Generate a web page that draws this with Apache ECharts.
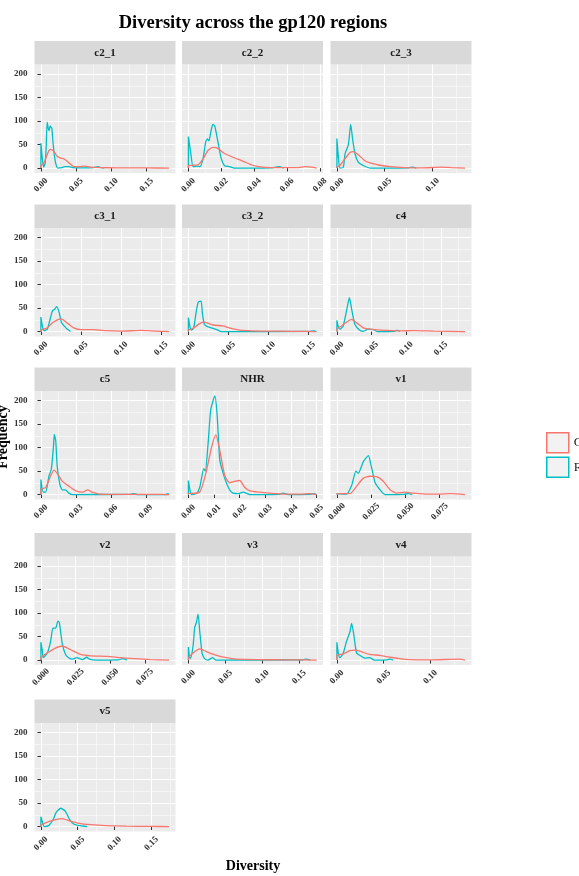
<!DOCTYPE html>
<html>
<head>
<meta charset="utf-8">
<title>Diversity across the gp120 regions</title>
<script src="https://cdn.jsdelivr.net/npm/echarts@6/dist/echarts.min.js"></script>
<style>
  html, body { margin: 0; padding: 0; background: #fff; }
  #chart { width: 579px; height: 876px; }
</style>
</head>
<body>
<div id="chart"></div>
<script>
// facet panels, in reading order (3 per row)
const regions = ['c2_1', 'c2_2', 'c2_3', 'c3_1', 'c3_2', 'c4', 'c5', 'NHR', 'v1', 'v2', 'v3', 'v4', 'v5'];
const groups = ['Chronic', 'Recent'];

// x tick labels, one set per panel (free x scales)
const xTicks_c2_1 = ['0.00', '0.05', '0.10', '0.15'];
const xTicks_c2_2 = ['0.00', '0.02', '0.04', '0.06', '0.08'];
const xTicks_c2_3 = ['0.00', '0.05', '0.10'];
const xTicks_c3_1 = ['0.00', '0.05', '0.10', '0.15'];
const xTicks_c3_2 = ['0.00', '0.05', '0.10', '0.15'];
const xTicks_c4 = ['0.00', '0.05', '0.10', '0.15'];
const xTicks_c5 = ['0.00', '0.03', '0.06', '0.09'];
const xTicks_NHR = ['0.00', '0.01', '0.02', '0.03', '0.04', '0.05'];
const xTicks_v1 = ['0.000', '0.025', '0.050', '0.075'];
const xTicks_v2 = ['0.000', '0.025', '0.050', '0.075'];
const xTicks_v3 = ['0.00', '0.05', '0.10', '0.15'];
const xTicks_v4 = ['0.00', '0.05', '0.10'];
const xTicks_v5 = ['0.00', '0.05', '0.10', '0.15'];
const yTickLabels = ['0', '50', '100', '150', '200'];

// density curves: [diversity, frequency]
const chronic_c2_1 = [[0,0],[0,5],[0.004,10],[0.008,25],[0.011,36],[0.0136,40],[0.018,36],[0.023,25],[0.028,21],[0.032,20],[0.037,15],[0.042,8],[0.047,3],[0.055,3],[0.062,4],[0.07,2],[0.084,1],[0.108,0.5],[0.15,0.3],[0.182,0]];
const recent_c2_1 = [[0,0],[0,53],[0.002,20],[0.004,2],[0.006,10],[0.0075,45],[0.0089,98],[0.0105,84],[0.0118,80],[0.013,90],[0.0136,88],[0.0155,85],[0.017,58],[0.019,28],[0.021,10],[0.024,0],[0.03,1],[0.034,3],[0.04,3],[0.045,1],[0.06,0.5],[0.075,1],[0.081,3],[0.086,1],[0.09,0]];

const chronic_c2_2 = [[0,0],[0,5],[0.003,6],[0.006,7],[0.009,20],[0.012,38],[0.015,44],[0.018,42],[0.021,33],[0.027,23],[0.033,15],[0.039,6],[0.045,2],[0.053,1],[0.067,1],[0.071,3],[0.075,2],[0.078,0]];
const recent_c2_2 = [[0,0],[0,67],[0.0015,30],[0.0028,3],[0.005,4],[0.007,3],[0.0089,20],[0.0105,55],[0.0115,62],[0.0125,58],[0.0138,80],[0.0149,93],[0.016,90],[0.018,55],[0.02,20],[0.022,5],[0.025,3],[0.028,0],[0.05,0.5],[0.055,3],[0.058,0]];

const chronic_c2_3 = [[0,0],[0,2],[0.003,5],[0.0085,20],[0.0137,33],[0.017,35],[0.0225,28],[0.0296,15],[0.0366,10],[0.045,6],[0.056,3],[0.07,1],[0.09,0.5],[0.109,2],[0.12,1],[0.134,0]];
const recent_c2_3 = [[0,0],[0,63],[0.0015,25],[0.003,0],[0.0067,2],[0.0085,30],[0.012,50],[0.0144,93],[0.0165,60],[0.019,30],[0.0225,12],[0.028,5],[0.035,0],[0.075,0.5],[0.079,2],[0.083,0]];

const chronic_c3_1 = [[0,0],[0,3],[0.008,8],[0.014,18],[0.0205,25],[0.0255,27],[0.033,18],[0.041,8],[0.05,4],[0.066,4],[0.079,2],[0.1,1],[0.117,2],[0.125,2.5],[0.137,1.5],[0.15,0.5],[0.16,0]];
const recent_c3_1 = [[0,0],[0,31],[0.002,10],[0.004,2],[0.008,5],[0.012,30],[0.0146,45],[0.017,47],[0.0196,53],[0.0226,42],[0.0255,20],[0.029,12],[0.033,5],[0.037,0]];

const chronic_c3_2 = [[0,0],[0,3],[0.0058,7],[0.014,17],[0.02,20],[0.0307,14],[0.043,12],[0.051,8],[0.064,3],[0.08,1.5],[0.097,1],[0.13,0.5],[0.159,0]];
const recent_c3_2 = [[0,0],[0,30],[0.002,10],[0.0037,3],[0.0066,8],[0.01,45],[0.0124,63],[0.0158,65],[0.0174,40],[0.02,15],[0.0245,10],[0.0307,7],[0.037,3],[0.041,0],[0.15,0.3],[0.157,1.5],[0.16,0]];

const chronic_c4 = [[0,0],[0,5],[0.0068,12],[0.014,20],[0.021,26],[0.029,18],[0.038,8],[0.048,5],[0.063,3],[0.092,1.5],[0.111,2],[0.14,1],[0.185,0]];
const recent_c4 = [[0,0],[0,24],[0.002,10],[0.0044,5],[0.009,12],[0.014,45],[0.018,72],[0.021,50],[0.026,15],[0.033,3],[0.038,0.5],[0.045,5],[0.053,4],[0.058,0],[0.083,0.5],[0.087,3],[0.091,0]];

const chronic_c5 = [[0,0],[0,11],[0.004,15],[0.0084,40],[0.0113,52],[0.014,45],[0.0185,28],[0.024,18],[0.03,8],[0.036,5],[0.04,10],[0.044,5],[0.05,1],[0.066,0.5],[0.104,0.5],[0.11,0]];
const recent_c5 = [[0,0],[0,32],[0.002,5],[0.004,5],[0.007,40],[0.009,55],[0.0107,100],[0.0115,128],[0.0127,115],[0.014,60],[0.0164,20],[0.0185,10],[0.021,10],[0.024,3],[0.027,0],[0.077,0.5],[0.08,2],[0.083,0],[0.107,0],[0.109,2],[0.11,0]];

const chronic_NHR = [[0,0],[0,2],[0.0044,5],[0.007,50],[0.009,100],[0.0107,127],[0.0122,95],[0.0142,40],[0.0161,25],[0.018,28],[0.02,30],[0.022,15],[0.024,8],[0.0279,5],[0.0318,3],[0.037,1],[0.044,1],[0.047,2],[0.05,0]];
const recent_NHR = [[0,0],[0,30],[0.0006,10],[0.0012,0],[0.0031,2],[0.0044,15],[0.006,55],[0.0066,50],[0.0077,110],[0.0087,180],[0.0103,210],[0.0112,170],[0.0122,75],[0.0133,50],[0.0148,25],[0.0161,10],[0.0174,3],[0.0195,2],[0.0214,5],[0.024,0],[0.035,0.5],[0.037,3],[0.039,0],[0.047,0.5],[0.049,2],[0.05,0]];

const chronic_v1 = [[0,0],[0,2],[0.0095,2],[0.0144,18],[0.0193,35],[0.0242,39],[0.029,38],[0.034,28],[0.0389,10],[0.0437,3],[0.05,5],[0.056,3],[0.066,1],[0.075,1],[0.083,2],[0.0935,0]];
const recent_v1 = [[0,0],[0,2],[0.004,1],[0.007,1],[0.0108,20],[0.0139,50],[0.0156,45],[0.0193,70],[0.023,83],[0.0247,65],[0.0279,25],[0.0315,10],[0.035,0],[0.049,0.5],[0.052,2],[0.055,0]];

const chronic_v2 = [[0,0],[0,5],[0.0046,15],[0.0094,24],[0.0154,30],[0.0215,22],[0.0287,12],[0.036,9],[0.048,8],[0.0576,5],[0.067,3],[0.079,1],[0.0925,0]];
const recent_v2 = [[0,0],[0,38],[0.001,20],[0.0017,5],[0.0046,15],[0.007,40],[0.0087,68],[0.0106,68],[0.0123,83],[0.0133,80],[0.0154,35],[0.0178,12],[0.02,5],[0.0227,2],[0.026,5],[0.03,1],[0.033,6],[0.035,2],[0.04,0],[0.056,0.5],[0.059,3],[0.062,0]];

const chronic_v3 = [[0,0],[0,3],[0.0063,15],[0.0154,24],[0.0244,18],[0.038,10],[0.0515,5],[0.065,2],[0.097,1],[0.13,0.5],[0.1735,0]];
const recent_v3 = [[0,0],[0,28],[0.0013,8],[0.0027,3],[0.0063,30],[0.0086,70],[0.0108,80],[0.0131,98],[0.0154,60],[0.0185,15],[0.022,3],[0.0266,0],[0.0325,5],[0.037,0],[0.155,0.5],[0.16,2],[0.165,0]];

const chronic_v4 = [[0,0],[0,10],[0.0068,13],[0.0139,20],[0.019,21],[0.026,18],[0.035,12],[0.046,10],[0.057,6],[0.067,3],[0.078,1],[0.1,0.5],[0.131,2],[0.137,0]];
const recent_v4 = [[0,0],[0,38],[0.0015,15],[0.0032,5],[0.0068,15],[0.0103,40],[0.0139,60],[0.0157,78],[0.018,55],[0.021,15],[0.0246,10],[0.03,4],[0.035,5],[0.04,0],[0.054,0.5],[0.057,2],[0.06,0]];

const chronic_v5 = [[0,0],[0,3],[0.0065,8],[0.0187,14],[0.0289,17],[0.039,12],[0.0512,7],[0.0675,4],[0.088,2],[0.116,1],[0.15,0.3],[0.174,0]];
const recent_v5 = [[0,0],[0,21],[0.002,10],[0.0045,0],[0.0106,2],[0.0167,15],[0.0207,30],[0.0268,39],[0.033,33],[0.039,15],[0.045,5],[0.053,2],[0.063,0]];

const xTickSets = [xTicks_c2_1, xTicks_c2_2, xTicks_c2_3, xTicks_c3_1, xTicks_c3_2, xTicks_c4, xTicks_c5, xTicks_NHR, xTicks_v1, xTicks_v2, xTicks_v3, xTicks_v4, xTicks_v5];
const chronicData = [chronic_c2_1, chronic_c2_2, chronic_c2_3, chronic_c3_1, chronic_c3_2, chronic_c4, chronic_c5, chronic_NHR, chronic_v1, chronic_v2, chronic_v3, chronic_v4, chronic_v5];
const recentData = [recent_c2_1, recent_c2_2, recent_c2_3, recent_c3_1, recent_c3_2, recent_c4, recent_c5, recent_NHR, recent_v1, recent_v2, recent_v3, recent_v4, recent_v5];

// layout (ggplot facet_wrap look)
const colLeft = [34.5, 182, 330.5];
const rowTop = [64.5, 228, 391, 556.5, 723];
const panelW = 141;
const panelH = 108.5;
const stripH = 23.5;
const serif = '"Liberation Serif", "DejaVu Serif", serif';
const RED = '#F8766D';
const TEAL = '#00BFC4';

// ggplot style minor breaks: midpoints between majors, one step beyond each end if still inside
function minorBreaks(major, lo, hi) {
  const step = major[1] - major[0];
  const ext = [major[0] - step, ...major, major[major.length - 1] + step];
  const out = [];
  for (let i = 0; i < ext.length - 1; i++) {
    const m = (ext[i] + ext[i + 1]) / 2;
    if (m >= lo && m <= hi) out.push(m);
  }
  return out;
}

function labelFor(labels, v) {
  const hit = labels.find(s => Math.abs(Number(s) - v) < 1e-9);
  return hit === undefined ? '' : hit;
}

// shared y scale (fixed across facets), 5% expansion like ggplot
const allY = chronicData.concat(recentData).flat().map(p => p[1]);
const yTop = Math.max(...allY);
const yMin = -0.05 * yTop;
const yMax = 1.05 * yTop;
const yMajor = yTickLabels.map(Number);
const yMinor = minorBreaks(yMajor, yMin, yMax);

const grids = [];
const xAxes = [];
const yAxes = [];
const series = [];
const graphics = [];

const tickStyle = { color: '#333', width: 1 };
const labelStyle = { fontFamily: serif, fontWeight: 'bold', fontSize: 9, color: '#333' };

regions.forEach((name, i) => {
  const col = i % 3;
  const row = Math.floor(i / 3);
  const left = colLeft[col];
  const top = rowTop[row];

  const pts = chronicData[i].concat(recentData[i]);
  const xHi = Math.max(...pts.map(p => p[0]));
  const xMin = -0.05 * xHi;
  const xMax = 1.05 * xHi;
  const labels = xTickSets[i];
  const xMajor = labels.map(Number);
  const xMinor = minorBreaks(xMajor, xMin, xMax);

  grids.push({
    left: left, top: top, width: panelW, height: panelH,
    show: true, backgroundColor: '#EBEBEB', borderWidth: 0
  });

  // major x axis: labels, ticks, major grid
  xAxes.push({
    type: 'value', gridIndex: i, min: xMin, max: xMax, position: 'bottom',
    axisLine: { show: false },
    axisTick: { show: true, customValues: xMajor, length: 3.5, lineStyle: tickStyle },
    axisLabel: Object.assign({
      customValues: xMajor, rotate: 45, align: 'center', verticalAlign: 'middle', margin: 12,
      formatter: v => labelFor(labels, v)
    }, labelStyle),
    splitLine: { show: true, lineStyle: { color: '#fff', width: 1.1 } }
  });
  // minor x grid only
  xAxes.push({
    type: 'value', gridIndex: i, min: xMin, max: xMax, position: 'top',
    axisLine: { show: false },
    axisTick: { show: false, customValues: xMinor },
    axisLabel: { show: false, customValues: xMinor },
    splitLine: { show: true, lineStyle: { color: '#fff', width: 0.5 } }
  });

  yAxes.push({
    type: 'value', gridIndex: i, min: yMin, max: yMax, position: 'left',
    axisLine: { show: false },
    axisTick: { show: col === 0, customValues: yMajor, length: 3.5, lineStyle: tickStyle },
    axisLabel: Object.assign({
      show: col === 0, customValues: yMajor, margin: 7,
      formatter: v => labelFor(yTickLabels, v)
    }, labelStyle),
    splitLine: { show: true, lineStyle: { color: '#fff', width: 1.1 } }
  });
  yAxes.push({
    type: 'value', gridIndex: i, min: yMin, max: yMax, position: 'right',
    axisLine: { show: false },
    axisTick: { show: false, customValues: yMinor },
    axisLabel: { show: false, customValues: yMinor },
    splitLine: { show: true, lineStyle: { color: '#fff', width: 0.5 } }
  });

  // teal first so the red outline sits on top, as in the original
  [[groups[1], recentData[i], TEAL], [groups[0], chronicData[i], RED]].forEach(([g, d, c]) => {
    series.push({
      name: g, type: 'line', xAxisIndex: 2 * i, yAxisIndex: 2 * i,
      data: d, showSymbol: false, smooth: 0.2,
      lineStyle: { color: c, width: 1.3 }, itemStyle: { color: c }
    });
  });

  // facet strip
  graphics.push({
    type: 'rect', silent: true,
    shape: { x: left, y: top - stripH, width: panelW, height: stripH },
    style: { fill: '#D9D9D9' }
  });
  graphics.push({
    type: 'text', silent: true,
    style: {
      text: name, x: left + panelW / 2, y: top - stripH / 2,
      align: 'center', verticalAlign: 'middle',
      font: 'bold 11px ' + serif, fill: '#1A1A1A'
    }
  });
});

// title and axis titles
graphics.push({
  type: 'text', silent: true,
  style: {
    text: 'Diversity across the gp120 regions', x: 253, y: 23,
    align: 'center', verticalAlign: 'middle',
    font: 'bold 18.5px ' + serif, fill: '#000'
  }
});
graphics.push({
  type: 'text', silent: true,
  style: {
    text: 'Diversity', x: 253, y: 866,
    align: 'center', verticalAlign: 'middle',
    font: 'bold 14px ' + serif, fill: '#000'
  }
});
graphics.push({
  type: 'text', silent: true, x: 3, y: 437, rotation: Math.PI / 2,
  style: {
    text: 'Frequency', x: 0, y: 0,
    align: 'center', verticalAlign: 'middle',
    font: 'bold 14px ' + serif, fill: '#000'
  }
});

const chart = echarts.init(document.getElementById('chart'));
chart.setOption({
  animation: false,
  backgroundColor: '#fff',
  grid: grids,
  xAxis: xAxes,
  yAxis: yAxes,
  series: series,
  legend: {
    left: 546, top: 432, orient: 'vertical', padding: 0,
    icon: 'rect', itemWidth: 22, itemHeight: 20, itemGap: 3,
    selectedMode: false,
    textStyle: { fontFamily: serif, fontSize: 13, color: '#1A1A1A' },
    data: [
      { name: groups[0], itemStyle: { color: '#F2F2F2', borderColor: RED, borderWidth: 1.5 } },
      { name: groups[1], itemStyle: { color: '#F2F2F2', borderColor: TEAL, borderWidth: 1.5 } }
    ]
  },
  graphic: graphics
});

window.addEventListener('resize', () => chart.resize());
</script>
</body>
</html>
